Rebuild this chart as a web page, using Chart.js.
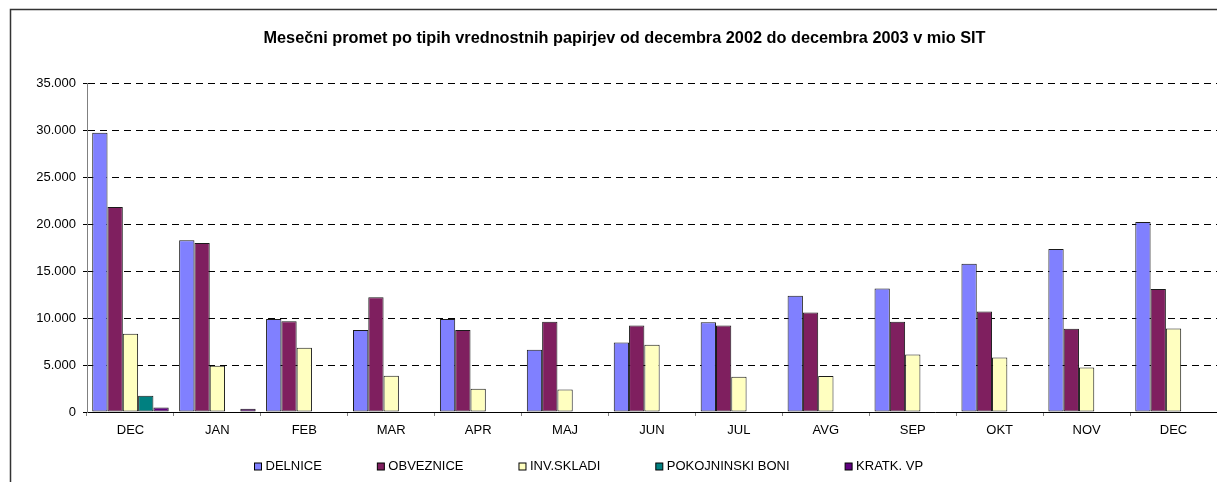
<!DOCTYPE html>
<html>
<head>
<meta charset="utf-8">
<script src="https://cdn.jsdelivr.net/npm/chart.js@4/dist/chart.umd.min.js"></script>
<style>
  html, body { margin: 0; padding: 0; background: #ffffff; overflow: hidden; }
  #wrap { width: 1217px; height: 482px; position: relative; }
</style>
</head>
<body>
<div id="wrap"><canvas id="c" width="1217" height="482"></canvas></div>
<script>
const titleText = 'Mesečni promet po tipih vrednostnih papirjev od decembra 2002 do decembra 2003 v mio SIT';
const categories = ['DEC', 'JAN', 'FEB', 'MAR', 'APR', 'MAJ', 'JUN', 'JUL', 'AVG', 'SEP', 'OKT', 'NOV', 'DEC'];
const delnice      = [29750, 18300, 9900, 8730, 9900, 6630, 7400, 9570, 12400, 13150, 15810, 17370, 20250];
const obveznice    = [21850, 18000, 9680, 12230, 8750, 9610, 9210, 9210, 10600, 9610, 10700, 8860, 13120];
const invSkladi    = [8350, 4930, 6850, 3870, 2480, 2400, 7160, 3760, 3830, 6130, 5810, 4750, 8890];
const pokojninski  = [1730, 0, 0, 0, 0, 0, 0, 0, 0, 0, 0, 0, 0];
const kratkVP      = [490, 350, 0, 0, 0, 0, 0, 0, 0, 0, 0, 0, 0];
const seriesNames  = ['DELNICE', 'OBVEZNICE', 'INV.SKLADI', 'POKOJNINSKI BONI', 'KRATK. VP'];
const seriesColors = ['#8080FF', '#7F1F5F', '#FFFFC0', '#008080', '#600080'];
const yMin = 0, yMax = 35000, yStep = 5000;

const FONT = '"Liberation Sans", Arial, sans-serif';

function fmtThousands(v) {
  return String(Math.round(v)).replace(/\B(?=(\d{3})+(?!\d))/g, '.');
}

const frameAndLegend = {
  id: 'frameAndLegend',
  afterLayout(chart) {
    // the original chart frame extends past the right edge; centre the title on it
    if (chart.titleBlock) {
      chart.titleBlock.left += 16;
      chart.titleBlock.right += 16;
    }
  },
  beforeDraw(chart) {
    const ctx = chart.ctx;
    ctx.save();
    ctx.fillStyle = '#ffffff';
    ctx.fillRect(0, 0, chart.width, chart.height);
    ctx.strokeStyle = '#333333';
    ctx.lineWidth = 1.5;
    ctx.beginPath();
    ctx.moveTo(10.5, chart.height + 2);
    ctx.lineTo(10.5, 9.5);
    ctx.lineTo(chart.width + 2, 9.5);
    ctx.stroke();
    ctx.restore();
  },
  afterDraw(chart) {
    const ctx = chart.ctx;
    ctx.save();
    ctx.font = '13px ' + FONT;
    ctx.textBaseline = 'middle';
    ctx.textAlign = 'left';
    let x = 254.5;
    const y = 466.5;
    chart.data.datasets.forEach(ds => {
      ctx.fillStyle = ds.backgroundColor;
      ctx.fillRect(x, y - 3.5, 7, 7);
      ctx.strokeStyle = '#000000';
      ctx.lineWidth = 1;
      ctx.strokeRect(x, y - 3.5, 7, 7);
      ctx.fillStyle = '#000000';
      ctx.fillText(ds.label, x + 11, y);
      x += 11 + ctx.measureText(ds.label).width + 55.5;
    });
    ctx.restore();
  }
};

const seriesData = [delnice, obveznice, invSkladi, pokojninski, kratkVP];

new Chart(document.getElementById('c'), {
  type: 'bar',
  data: {
    labels: categories,
    datasets: seriesNames.map((name, i) => ({
      label: name,
      data: seriesData[i],
      backgroundColor: seriesColors[i],
      borderColor: '#1a1a1a',
      borderWidth: 1,
      borderSkipped: false,
      categoryPercentage: 0.88,
      barPercentage: 1.0
    }))
  },
  options: {
    responsive: false,
    animation: false,
    devicePixelRatio: 1,
    layout: { padding: { left: 0, right: 0, top: 0, bottom: 40 } },
    plugins: {
      legend: { display: false },
      tooltip: { enabled: false },
      title: {
        display: true,
        text: titleText,
        color: '#000000',
        font: { family: FONT, size: 16.3, weight: 'bold' },
        padding: { top: 28.5, bottom: 35.5 }
      }
    },
    scales: {
      x: {
        offset: true,
        grid: {
          display: true,
          drawOnChartArea: false,
          offset: true,
          tickLength: 4,
          color: '#808080'
        },
        border: { display: true, color: '#000000', width: 1 },
        ticks: {
          color: '#000000',
          font: { family: FONT, size: 13 },
          padding: 7,
          maxRotation: 0,
          autoSkip: false
        },
        afterFit(scale) { scale.height = 30; }
      },
      y: {
        min: yMin,
        max: yMax,
        grid: {
          color: '#000000',
          lineWidth: 1,
          tickLength: 4,
          tickColor: '#000000',
          tickBorderDash: [],
          drawTicks: true
        },
        border: { display: true, color: '#808080', width: 1, dash: [7, 5] },
        ticks: {
          stepSize: yStep,
          color: '#000000',
          font: { family: FONT, size: 13 },
          padding: 7,
          callback: (v) => fmtThousands(v)
        },
        afterFit(scale) { scale.width = 87; }
      }
    }
  },
  plugins: [frameAndLegend]
});
</script>
</body>
</html>
